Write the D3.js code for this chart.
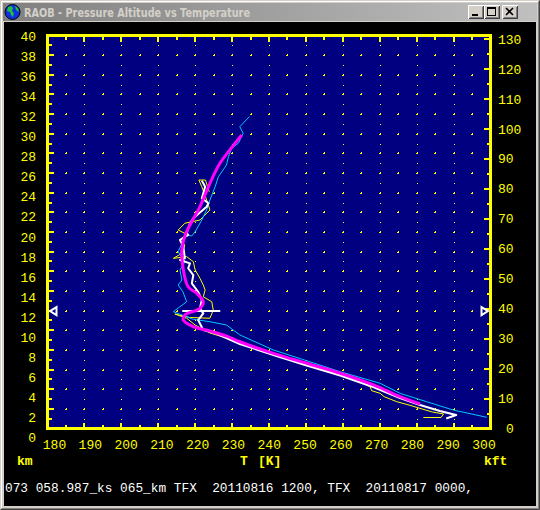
<!DOCTYPE html>
<html><head><meta charset="utf-8">
<script src="https://cdn.jsdelivr.net/npm/d3@7"></script>
<style>html,body{margin:0;padding:0;background:#d4d0c8;}svg{display:block;}</style>
</head><body>
<script>
// ---------- data ----------
const title = "RAOB - Pressure Altitude vs Temperature";
const statusLine = "073 058.987_ks 065_km TFX  20110816 1200, TFX  20110817 0000,";
const tempTicks = [180,190,200,210,220,230,240,250,260,270,280,290,300];
const kmTicks = [0,2,4,6,8,10,12,14,16,18,20,22,24,26,28,30,32,34,36,38,40];
const kftTicks = [0,10,20,30,40,50,60,70,80,90,100,110,120,130];
const tropopauseKm = 11.95;
const tropopauseBar = [[216.5,11.97],[226.8,11.97]];

// [T (K), altitude (km)]
const yellowProfile = [
 [281.8,1.12],[286.6,1.12],[287.3,1.48],[284.2,1.68],[280.9,2.05],[278.2,2.36],[274.6,2.73],[271.2,3.24],
 [270.1,3.58],[267.8,3.85],[267.4,4.25],[264.6,4.76],[259.3,5.45],[250.2,6.56],[241.2,7.65],[232.1,8.6],
 [228.5,9.21],[224.0,9.72],[220.0,10.53],[217.7,11.22],[214.5,11.65],[218.5,11.3],[224.0,11.22],[224.9,12.06],
 [224.5,12.9],[222.2,13.41],[222.7,14.1],[222.2,14.6],[221.3,15.29],[220.0,16.13],[219.5,16.98],[217.7,17.49],
 [214.1,17.32],[216.4,17.83],[217.2,18.68],[215.9,19.19],[218.1,19.7],[215.4,20.2],[217.2,20.89],[221.3,21.22],
 [224.0,22.24],[223.1,23.26],[221.8,24.61],[221.0,25.29],[222.8,25.29],[223.8,24.1]
];
const cyanProfile = [
 [299.0,1.14],[289.9,1.88],[282.7,2.73],[275.5,3.58],[270.1,4.6],[259.3,5.78],[250.2,6.9],[241.2,7.99],
 [232.1,9.52],[228.5,10.53],[224.0,10.87],[219.5,11.11],[214.1,11.89],[217.7,12.9],[216.7,13.9],[215.4,14.6],
 [216.4,15.11],[215.9,16.13],[217.2,16.98],[215.4,17.99],[216.4,18.85],[217.7,19.7],[219.1,19.6],[220.0,20.03],
 [221.8,21.22],[223.1,22.24],[224.0,23.26],[225.4,24.6],[226.3,25.63],[228.5,26.82],[229.0,27.66],[229.9,28.52],
 [231.7,29.03],[233.0,30.05],[232.1,30.72],[234.7,31.74]
];
const whiteProfile = [
 [288.0,1.02],[290.7,1.37],[286.3,1.78],[280.9,2.39],[275.5,3.1],[268.2,4.22],[259.3,5.39],[250.2,6.41],
 [241.2,7.48],[232.1,8.6],[225.4,9.72],[222.2,10.03],[220.8,11.04],[222.2,11.72],[221.3,12.23],[221.8,13.08],
 [220.8,13.92],[219.1,14.78],[219.5,15.62],[218.1,16.31],[218.6,16.81],[215.9,17.15],[217.2,17.32],[216.8,18.5],
 [215.9,19.19],[218.1,19.7],[217.7,19.87],[218.6,20.88],[219.5,21.39],[223.1,22.58],[223.6,22.92],[221.8,23.43],
 [222.2,23.94],[222.7,24.61],[222.2,24.96],[221.8,25.22]
];
const magentaProfile = [
 [280.9,2.49],[275.5,3.24],[268.3,4.43],[259.3,5.62],[250.2,6.64],[241.2,7.65],[232.1,8.83],[228.5,9.41],
 [224.0,9.92],[219.5,10.36],[216.8,11.04],[217.2,11.55],[221.3,12.23],[222.2,12.9],[220.4,13.76],[218.1,14.43],
 [216.8,16.13],[216.4,18.17],[217.4,19.8],[221.3,22.58],[224.0,24.96],[226.7,26.99],[229.4,28.35],[232.6,29.87]
];

// ---------- drawing ----------
const W = 540, H = 510;
const svg = d3.select("body").append("svg").attr("width", W).attr("height", H);

// window frame
svg.append("rect").attr("x",0).attr("y",0).attr("width",W).attr("height",H).attr("fill","#d4d0c8");
svg.append("path").attr("d",`M0.5,${H-0.5}V0.5H${W-0.5}`).attr("stroke","#d4d0c8").attr("fill","none");
svg.append("path").attr("d",`M1.5,${H-1.5}V1.5H${W-1.5}`).attr("stroke","#ffffff").attr("fill","none");
svg.append("path").attr("d",`M0.5,${H-0.5}H${W-0.5}V0.5`).attr("stroke","#404040").attr("fill","none");
svg.append("path").attr("d",`M1.5,${H-1.5}H${W-1.5}V1.5`).attr("stroke","#808080").attr("fill","none");

const defs = svg.append("defs");
const grad = defs.append("linearGradient").attr("id","cap").attr("x1","0").attr("x2","1").attr("y1","0").attr("y2","0");
grad.append("stop").attr("offset","0").attr("stop-color","#808080");
grad.append("stop").attr("offset","1").attr("stop-color","#c0c0c0");
svg.append("rect").attr("x",3).attr("y",3).attr("width",W-6).attr("height",18).attr("fill","url(#cap)");

// icon (globe)
svg.append("circle").attr("cx",12.5).attr("cy",12).attr("r",7.5).attr("fill","#1030e0").attr("stroke","#000").attr("stroke-width",1);
svg.append("path").attr("d","M8,7 L11,6 L13,8 L12,11 L14,13 L13,17 L11,15 L10,12 L7,11 Z M15,6 L18,8 L19,12 L16,10 Z").attr("fill","#20c040");

svg.append("text").attr("x",24).attr("y",16.5).text(title)
  .attr("font-family","Tahoma, 'DejaVu Sans', sans-serif").attr("font-weight","bold").attr("font-size",12)
  .attr("fill","#d4d0c8").attr("textLength",226).attr("lengthAdjust","spacingAndGlyphs");

// caption buttons
const btns = [{x:468,k:"min"},{x:484,k:"max"},{x:502,k:"close"}];
btns.forEach(b=>{
  const g = svg.append("g").attr("transform",`translate(${b.x},5)`).attr("shape-rendering","crispEdges");
  g.append("rect").attr("x",0).attr("y",0).attr("width",16).attr("height",14).attr("fill","#d4d0c8");
  g.append("path").attr("d","M0.5,13.5V0.5H15.5").attr("stroke","#fff").attr("fill","none");
  g.append("path").attr("d","M0.5,13.5H15.5V0.5").attr("stroke","#404040").attr("fill","none");
  g.append("path").attr("d","M1.5,12.5H14.5V1.5").attr("stroke","#808080").attr("fill","none");
  if(b.k==="min") g.append("rect").attr("x",4).attr("y",9).attr("width",6).attr("height",2).attr("fill","#000");
  if(b.k==="max"){ g.append("rect").attr("x",3.5).attr("y",2.5).attr("width",8).attr("height",8).attr("fill","none").attr("stroke","#000");
                   g.append("rect").attr("x",3).attr("y",2).attr("width",9).attr("height",2).attr("fill","#000"); }
  if(b.k==="close") g.append("path").attr("d","M4,3L11,10M11,3L4,10").attr("stroke","#000").attr("stroke-width",1.6).attr("shape-rendering","auto");
});

// client area
svg.append("rect").attr("x",4).attr("y",22).attr("width",532).attr("height",484).attr("fill","#000");

// scales
const x = d3.scaleLinear().domain([180,300]).range([47.5,490.5]);
const y = d3.scaleLinear().domain([0,40]).range([428.5,35.5]);
const xLab = d3.scaleLinear().domain([180,300]).range([54.5,484]);
const yLab = d3.scaleLinear().domain([0,40]).range([442,41]);
const kft2km = 0.3048;

// plot background
svg.append("rect").attr("x",x(180)).attr("y",y(40)).attr("width",x(300)-x(180)).attr("height",y(0)-y(40)).attr("fill","#000080");

// grid dots
const dots = [];
d3.range(185,300,5).forEach(k=>{
  d3.range(1,40).forEach(z=>{
    if(k%10===0 || z%2===0) dots.push({k,z});
  });
});
const gd = svg.append("g").attr("fill","#ffff00").attr("shape-rendering","crispEdges");
dots.forEach(d=>{
  const px = Math.round(x(d.k)), py = Math.round(y(d.z));
  if(d.z%2===0){
    gd.append("rect").attr("x",px-1).attr("y",py).attr("width",2).attr("height",1);
    gd.append("rect").attr("x",px).attr("y",py-1).attr("width",1).attr("height",1);
  } else {
    gd.append("rect").attr("x",px).attr("y",py).attr("width",1).attr("height",1);
  }
});

// ticks
const gt = svg.append("g").attr("fill","#ffff00").attr("shape-rendering","crispEdges");
d3.range(185,300,5).forEach(k=>{
  const len = k%10===0 ? 5 : 3;
  const px = Math.round(x(k));
  gt.append("rect").attr("x",px-1).attr("y",Math.round(y(0))-1-len).attr("width",2).attr("height",len);
  gt.append("rect").attr("x",px-1).attr("y",Math.round(y(40))+1).attr("width",2).attr("height",len);
});
d3.range(1,40,1).forEach(z=>{
  const len = z%2===0 ? 5 : 3;
  const py = Math.round(y(z));
  gt.append("rect").attr("x",Math.round(x(180))+1).attr("y",py-1).attr("width",len).attr("height",2);
});
d3.range(5,131,5).forEach(f=>{
  const len = f%10===0 ? 6 : 3;
  const py = Math.round(y(f*kft2km));
  gt.append("rect").attr("x",Math.round(x(300))-1-len).attr("y",py-1).attr("width",len).attr("height",2);
});

// frame
svg.append("rect").attr("x",x(180)).attr("y",y(40)).attr("width",x(300)-x(180)).attr("height",y(0)-y(40))
  .attr("fill","none").attr("stroke","#ffff00").attr("stroke-width",3).attr("shape-rendering","crispEdges");

// profiles
const line = d3.line().x(d=>x(d[0])).y(d=>y(d[1]));
const smooth = d3.line().x(d=>x(d[0])).y(d=>y(d[1])).curve(d3.curveCatmullRom.alpha(0.5));
const gp = svg.append("g").attr("fill","none").attr("stroke-linejoin","round");
gp.append("path").datum(yellowProfile).attr("d",line).attr("stroke","#ffff00").attr("stroke-width",1);
gp.append("path").datum(cyanProfile).attr("d",line).attr("stroke","#00c8ff").attr("stroke-width",1);
gp.append("path").datum(whiteProfile).attr("d",line).attr("stroke","#ffffff").attr("stroke-width",2);
gp.append("path").datum(tropopauseBar).attr("d",line).attr("stroke","#ffffff").attr("stroke-width",2);
gp.append("path").datum(magentaProfile).attr("d",smooth).attr("stroke","#ff00ff").attr("stroke-width",3);

// tropopause markers
const ty = y(tropopauseKm);
svg.append("path").attr("d",`M${x(180)+2.5},${ty} L${x(180)+9},${ty-4} L${x(180)+9},${ty+4} Z`)
  .attr("fill","#000080").attr("stroke","#ffffff").attr("stroke-width",2);
svg.append("path").attr("d",`M${x(300)-2.5},${ty} L${x(300)-9},${ty-4} L${x(300)-9},${ty+4} Z`)
  .attr("fill","#000080").attr("stroke","#ffffff").attr("stroke-width",2);

// labels
const mono = "'Liberation Mono', 'Courier New', monospace";
const gl = svg.append("g").attr("font-family",mono).attr("font-size",13).attr("fill","#ffff00");
tempTicks.forEach(t=>gl.append("text").attr("x",xLab(t)).attr("y",449).attr("text-anchor","middle").text(t));
kmTicks.forEach(k=>gl.append("text").attr("x",36).attr("y",yLab(k)).attr("text-anchor","end").text(k));
kftTicks.forEach(f=>gl.append("text").attr("x", f<10 ? 506 : 498).attr("y",y(f*kft2km)+4.5).text(f));

const gb = svg.append("g").attr("font-family",mono).attr("font-size",13).attr("font-weight","bold").attr("fill","#ffff00");
gb.append("text").attr("x",17).attr("y",465).text("km");
gb.append("text").attr("x",240).attr("y",465).text("T");
gb.append("text").attr("x",258).attr("y",465).text("[K]");
gb.append("text").attr("x",484).attr("y",465).text("kft");

svg.append("text").attr("x",5).attr("y",492).attr("font-family",mono).attr("font-size",13)
  .attr("fill","#ffffff")
  .attr("textLength",468).attr("lengthAdjust","spacingAndGlyphs")
  .text(statusLine.replace(/ /g,"\u00A0"));
</script>
</body></html>
